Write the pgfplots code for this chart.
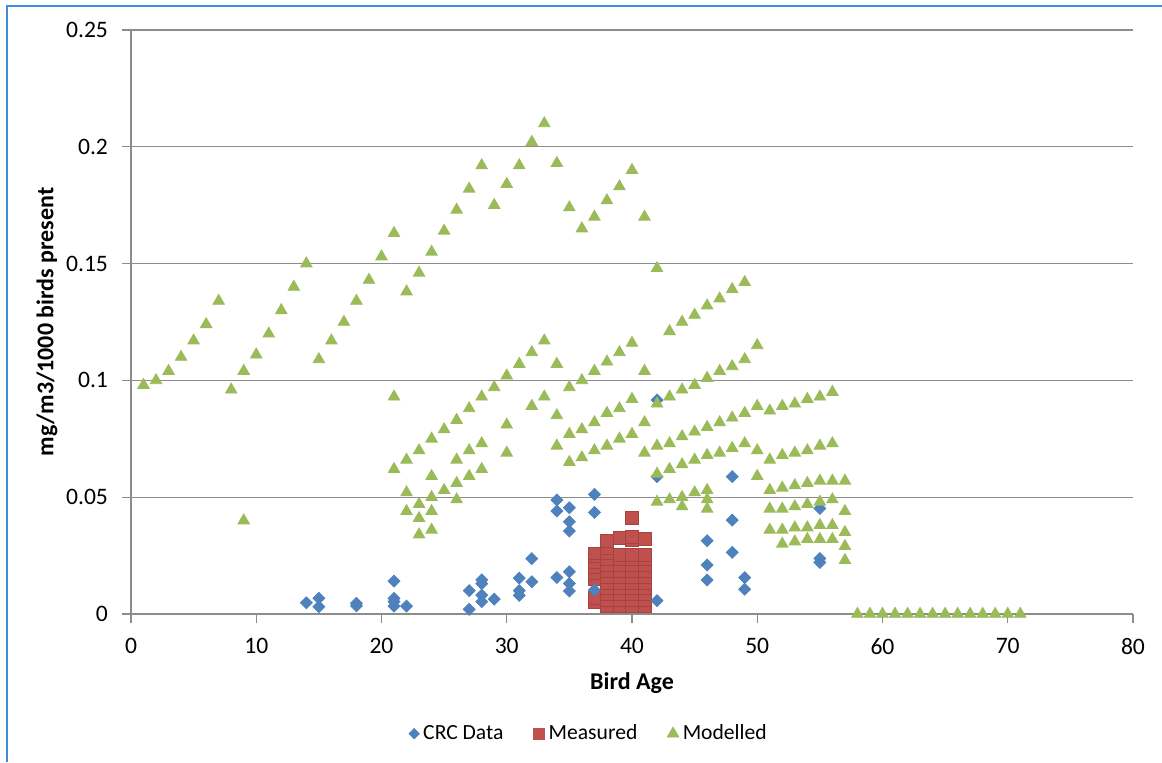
\documentclass[border=0pt]{standalone}
\usepackage{fontspec}
\setmainfont{Carlito}
\usepackage{pgfplots}
\pgfplotsset{compat=1.18}
\definecolor{crc}{HTML}{4F81BD}
\definecolor{meas}{HTML}{C0504D}
\definecolor{mod}{HTML}{9BBB59}
\definecolor{gridc}{HTML}{8C8C8C}
\definecolor{framec}{HTML}{3C8DDA}
\begin{document}
\begin{tikzpicture}[x=1pt,y=1pt]
\path[use as bounding box] (0,0) rectangle (581,381);
\draw[framec, line width=1pt] (3.5,0) -- (3.5,378) -- (581,378);
\begin{axis}[
  at={(65.5pt,74pt)}, anchor=south west,
  width=501pt, height=292pt, scale only axis,
  xmin=0, xmax=80, ymin=0, ymax=0.25,
  axis x line*=bottom, axis y line*=left,
  axis line style={gridc, line width=0.6pt},
  xtick={0,10,20,30,40,50,60,70,80},
  ytick={0,0.05,0.1,0.15,0.2,0.25},
  xticklabels={0,10,20,30,40,50,60,70,80},
  yticklabels={0,0.05,0.1,0.15,0.2,0.25},
  tick align=outside, major tick length=4.5pt,
  tick style={gridc, line width=0.6pt},
  ymajorgrids, grid style={gridc, line width=0.6pt},
  /pgf/number format/assume math mode=true,
  ticklabel style={font=\fontsize{11.8}{13}\selectfont, text=black},
  xticklabel shift=4pt, yticklabel shift=3.5pt,
  xlabel={Bird Age}, ylabel={mg/m3/1000 birds present},
  label style={font=\fontsize{12}{14}\selectfont\bfseries},
  xlabel style={at={(axis description cs:0.5,-0.118)}, anchor=center},
  ylabel style={at={(axis description cs:-0.0838,0.5)}, anchor=center, rotate=0},
  legend style={at={(axis description cs:0.458,-0.205)}, anchor=center,
    draw=none, fill=none, font=\fontsize{10.8}{12}\selectfont,
    legend columns=3, /tikz/every even column/.append style={column sep=13pt}},
  legend image code/.code={\draw[#1] plot coordinates {(0pt,0pt)};},
  clip=false,
]
\addlegendimage{only marks, mark=square*, mark size=1.8pt, mark options={rotate=45, fill=crc, draw=crc}}
\addlegendentry{CRC Data}
\addlegendimage{only marks, mark=square*, mark size=2.8pt, mark options={fill=meas, draw=meas}}
\addlegendentry{Measured}
\addlegendimage{only marks, mark=triangle*, mark size=3.3pt, mark options={fill=mod, draw=mod}}
\addlegendentry{Modelled}

% Measured
\addplot[forget plot, only marks, mark=square*, mark size=3.2pt, mark options={fill=meas, draw=meas!85!black, line width=0.3pt}] coordinates {
(37,0.0051) (37,0.0068) (37,0.0150) (37,0.0175) (37,0.0200) (37,0.0225) (37,0.0250) (37,0.0260)
(38,0.0036) (38,0.0060) (38,0.0085) (38,0.0110) (38,0.0135) (38,0.0160) (38,0.0185) (38,0.0210) (38,0.0235) (38,0.0260) (38,0.0285) (38,0.0312)
(39,0.0036) (39,0.0060) (39,0.0085) (39,0.0110) (39,0.0135) (39,0.0160) (39,0.0185) (39,0.0210) (39,0.0235) (39,0.0255) (39,0.0325)
(40,0.0036) (40,0.0060) (40,0.0085) (40,0.0110) (40,0.0135) (40,0.0160) (40,0.0185) (40,0.0210) (40,0.0235) (40,0.0255) (40,0.0318) (40,0.0332) (40,0.0413)
(41,0.0036) (41,0.0060) (41,0.0085) (41,0.0110) (41,0.0135) (41,0.0160) (41,0.0185) (41,0.0210) (41,0.0235) (41,0.0255) (41,0.0323)
};

% CRC data
\addplot[forget plot, only marks, mark=square*, mark size=2.1pt, mark options={rotate=45, fill=crc, draw=crc}] coordinates {
(14,0.0048) (15,0.0067) (15,0.0031) (18,0.0046) (18,0.0035)
(21,0.0141) (21,0.0067) (21,0.0053) (21,0.0034) (22,0.0034)
(27,0.0100) (27,0.0020) (28,0.0146) (28,0.0130) (28,0.0081) (28,0.0053) (29,0.0064)
(31,0.0154) (31,0.0100) (31,0.0080) (32,0.0237) (32,0.0138)
(34,0.0488) (34,0.0441) (34,0.0156)
(35,0.0455) (35,0.0395) (35,0.0355) (35,0.0181) (35,0.0131) (35,0.0098)
(37,0.0512) (37,0.0435) (37,0.0103)
(42,0.0916) (42,0.0588) (42,0.0057)
(46,0.0314) (46,0.0210) (46,0.0146)
(48,0.0588) (48,0.0402) (48,0.0264)
(49,0.0156) (49,0.0106)
(55,0.0452) (55,0.0238) (55,0.0221)
};

% Modelled
\addplot[forget plot, only marks, mark=triangle*, mark size=3.3pt, mark options={fill=mod, draw=mod}] coordinates {
(1,0.098) (2,0.100) (3,0.104) (4,0.110) (5,0.117) (6,0.124) (7,0.134)
(8,0.096) (9,0.104) (9,0.040) (10,0.111) (11,0.120) (12,0.130) (13,0.140) (14,0.150)
(15,0.109) (16,0.117) (17,0.125) (18,0.134) (19,0.143) (20,0.153)
(21,0.163) (21,0.093) (21,0.062)
(22,0.138) (22,0.066) (22,0.052) (22,0.044)
(23,0.146) (23,0.070) (23,0.047) (23,0.041) (23,0.034)
(24,0.155) (24,0.075) (24,0.059) (24,0.050) (24,0.044) (24,0.036)
(25,0.164) (25,0.079) (25,0.053)
(26,0.173) (26,0.083) (26,0.066) (26,0.056) (26,0.049)
(27,0.182) (27,0.088) (27,0.070) (27,0.059)
(28,0.192) (28,0.093) (28,0.073) (28,0.062)
(29,0.175) (29,0.097)
(30,0.184) (30,0.102) (30,0.081) (30,0.069)
(31,0.192) (31,0.107)
(32,0.202) (32,0.112) (32,0.089)
(33,0.210) (33,0.117) (33,0.093)
(34,0.193) (34,0.107) (34,0.085) (34,0.072)
(35,0.174) (35,0.097) (35,0.077) (35,0.065)
(36,0.165) (36,0.100) (36,0.079) (36,0.067)
(37,0.170) (37,0.104) (37,0.082) (37,0.070)
(38,0.177) (38,0.108) (38,0.086) (38,0.072)
(39,0.183) (39,0.112) (39,0.088) (39,0.075)
(40,0.190) (40,0.116) (40,0.092) (40,0.077)
(41,0.170) (41,0.104) (41,0.082) (41,0.069)
(42,0.148) (42,0.090) (42,0.072) (42,0.060) (42,0.048)
(43,0.121) (43,0.093) (43,0.073) (43,0.062) (43,0.049)
(44,0.125) (44,0.096) (44,0.076) (44,0.064) (44,0.050) (44,0.046)
(45,0.128) (45,0.098) (45,0.078) (45,0.066) (45,0.052)
(46,0.132) (46,0.101) (46,0.080) (46,0.068) (46,0.053) (46,0.049) (46,0.045)
(47,0.135) (47,0.104) (47,0.082) (47,0.069)
(48,0.139) (48,0.106) (48,0.084) (48,0.071)
(49,0.142) (49,0.109) (49,0.086) (49,0.073)
(50,0.115) (50,0.089) (50,0.070) (50,0.059)
(51,0.087) (51,0.066) (51,0.053) (51,0.045) (51,0.036)
(52,0.089) (52,0.068) (52,0.054) (52,0.045) (52,0.036) (52,0.030)
(53,0.090) (53,0.069) (53,0.055) (53,0.046) (53,0.037) (53,0.031)
(54,0.092) (54,0.070) (54,0.056) (54,0.047) (54,0.037) (54,0.032)
(55,0.093) (55,0.072) (55,0.057) (55,0.048) (55,0.038) (55,0.032)
(56,0.095) (56,0.073) (56,0.057) (56,0.049) (56,0.038) (56,0.032)
(57,0.057) (57,0.044) (57,0.035) (57,0.029) (57,0.023)
(58,0) (59,0) (60,0) (61,0) (62,0) (63,0) (64,0) (65,0) (66,0) (67,0) (68,0) (69,0) (70,0) (71,0)
};
\end{axis}
\end{tikzpicture}
\end{document}
